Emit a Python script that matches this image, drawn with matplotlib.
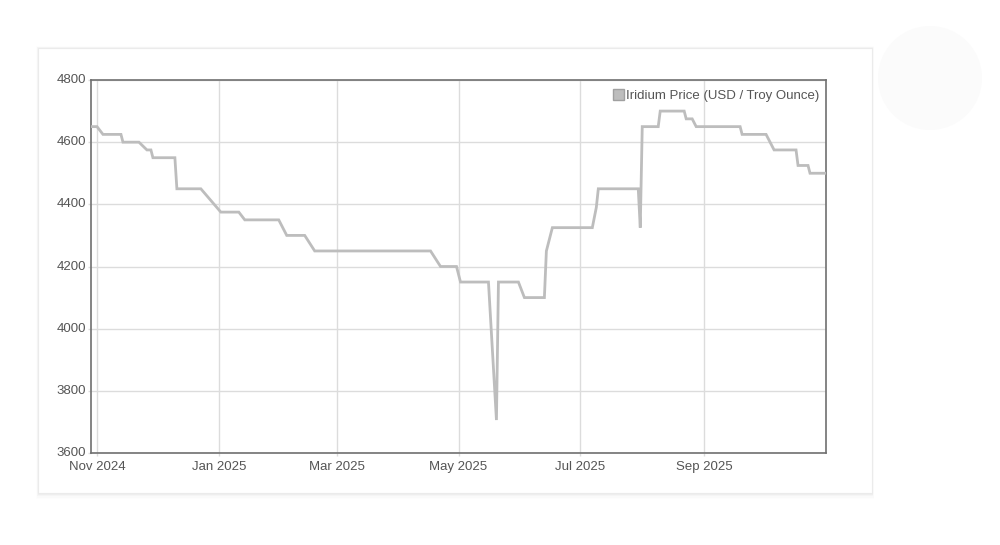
import matplotlib
matplotlib.use("Agg")
import matplotlib.pyplot as plt
from matplotlib.patches import Rectangle, Ellipse, Patch
import numpy as np
import pandas as pd

plt.rcParams['font.family'] = ['Liberation Sans', 'DejaVu Sans']

# ---- data ----
dates = ["2024-10-29", "2024-11-01", "2024-11-04", "2024-11-13", "2024-11-14",
         "2024-11-22", "2024-11-26", "2024-11-28", "2024-11-29", "2024-12-10",
         "2024-12-11", "2024-12-23", "2025-01-02", "2025-01-11", "2025-01-14",
         "2025-01-31", "2025-02-04", "2025-02-13", "2025-02-18", "2025-04-17",
         "2025-04-22", "2025-04-30", "2025-05-02", "2025-05-16", "2025-05-20",
         "2025-05-21", "2025-05-31", "2025-06-03", "2025-06-13", "2025-06-14",
         "2025-06-17", "2025-07-07", "2025-07-09", "2025-07-10", "2025-07-30",
         "2025-07-31", "2025-08-01", "2025-08-09", "2025-08-10", "2025-08-22",
         "2025-08-23", "2025-08-26", "2025-08-28", "2025-09-19", "2025-09-20",
         "2025-10-02", "2025-10-04", "2025-10-06", "2025-10-17", "2025-10-18",
         "2025-10-23", "2025-10-24", "2025-11-01"]
prices = [4650, 4650, 4625, 4625, 4600,
          4600, 4575, 4575, 4550, 4550,
          4450, 4450, 4375, 4375, 4350,
          4350, 4300, 4300, 4250, 4250,
          4200, 4200, 4150, 4150, 3706,
          4150, 4150, 4100, 4100, 4250,
          4325, 4325, 4390, 4450, 4450,
          4325, 4650, 4650, 4700, 4700,
          4675, 4675, 4650, 4650, 4625,
          4625, 4600, 4575, 4575, 4525,
          4525, 4500, 4500]
series_label = "Iridium Price (USD / Troy Ounce)"
x_tick_dates = ["2024-11-01", "2025-01-01", "2025-03-01", "2025-05-01", "2025-07-01", "2025-09-01"]
x_tick_labels = ["Nov 2024", "Jan 2025", "Mar 2025", "May 2025", "Jul 2025", "Sep 2025"]
y_ticks = [3600, 3800, 4000, 4200, 4400, 4600, 4800]

W, H = 1000, 545
fig = plt.figure(figsize=(W / 100, H / 100), dpi=100)
fig.patch.set_facecolor("white")

def fx(px):
    return px / W

def fy(py):
    return 1 - py / H

# faint circle at top right
fig.patches.append(Ellipse((fx(930), fy(78)), 104 / W, 104 / H, transform=fig.transFigure,
                           facecolor="#fbfbfb", edgecolor="none", zorder=0))
# card soft shadow
for i, a in enumerate([0.025, 0.018, 0.012, 0.007]):
    d = i + 1
    fig.patches.append(Rectangle((fx(38 - d * 0.5), fy(493 + d * 1.5)), fx(834 + d), (445 + d * 2) / H,
                                 transform=fig.transFigure, facecolor="black", alpha=a,
                                 edgecolor="none", zorder=0))
fig.patches.append(Rectangle((fx(38), fy(493)), fx(834), 445 / H, transform=fig.transFigure,
                             facecolor="white", edgecolor="#ebebeb", linewidth=0.8, zorder=1))
# subtle top gradient inside card
grad = np.linspace(0.968, 1.0, 40).reshape(-1, 1)
gax = fig.add_axes([fx(39), fy(110), fx(832), 61 / H], zorder=1)
gax.imshow(np.dstack([grad, grad, grad]), aspect="auto", extent=[0, 1, 0, 1], origin="upper")
gax.axis("off")

ax = fig.add_axes([fx(91), fy(453), fx(735), 373 / H], zorder=2)
ax.set_facecolor("white")

x = pd.to_datetime(dates)
ax.plot(x, prices, color="#bdbdbd", linewidth=2.0, solid_joinstyle="miter", zorder=3)

ax.set_xlim(pd.Timestamp("2024-10-29"), pd.Timestamp("2025-11-01"))
ax.set_ylim(3600, 4800)
ax.set_yticks(y_ticks)
ax.set_xticks(pd.to_datetime(x_tick_dates))
ax.set_xticklabels(x_tick_labels)

ax.grid(True, color="#dcdcdc", linewidth=1.0, zorder=0)
ax.set_axisbelow(True)
for s in ax.spines.values():
    s.set_color("#707070")
    s.set_linewidth(1.2)
ax.tick_params(axis="both", colors="#dcdcdc", labelcolor="#555555", labelsize=9.5, length=2.5, width=1)
ax.tick_params(axis="x", pad=3.5)
ax.tick_params(axis="y", pad=1)
for lab in ax.get_yticklabels():
    lab.set_verticalalignment("center")

# square legend marker
ax.legend(handles=[Patch(facecolor="#bdbdbd", edgecolor="#a0a0a0", label=series_label)],
          loc="upper right", frameon=False, fontsize=9.5, handlelength=0.85, handleheight=0.85,
          handletextpad=0.15, borderaxespad=0.0, labelcolor="#555555",
          bbox_to_anchor=(0.9985, 0.99))

fig.savefig("out.png", dpi=100, facecolor="white")
